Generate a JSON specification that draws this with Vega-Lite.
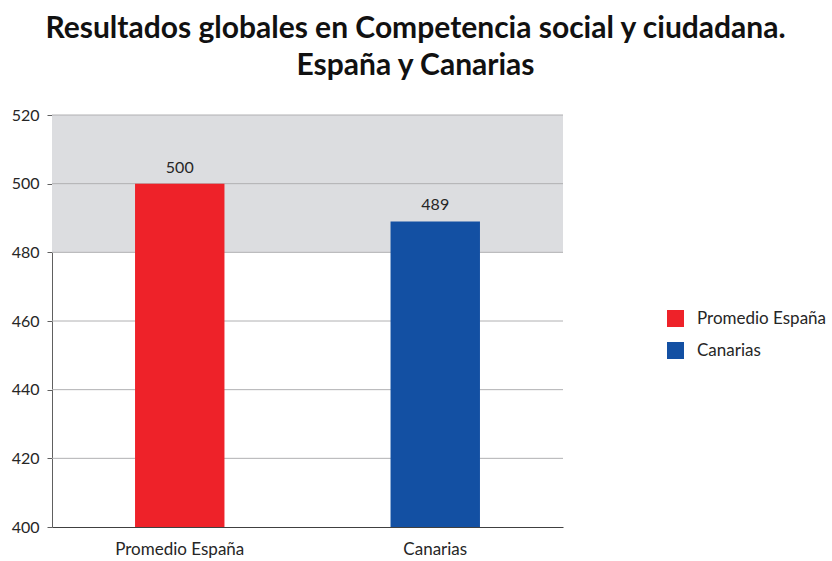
{
  "$schema": "https://vega.github.io/schema/vega-lite/v6.json",
  "autosize": "none",
  "width": 511,
  "height": 412,
  "padding": {"left": 52, "top": 115, "right": 269, "bottom": 34},
  "background": "white",
  "config": {"font": "Lato", "view": {"stroke": null}},
  "title": {
    "text": ["Resultados globales en Competencia social y ciudadana.", "España y Canarias"],
    "fontSize": 30,
    "fontWeight": "bold",
    "font": "Lato",
    "color": "#111111",
    "anchor": "middle",
    "dx": 108,
    "offset": 26,
    "lineHeight": 37
  },
  "datasets": {
    "scores": [
      {"grupo": "Promedio España", "puntuacion": 500},
      {"grupo": "Canarias", "puntuacion": 489}
    ],
    "banda": [{"desde": 480, "hasta": 520}],
    "rejilla": [{"v": 420}, {"v": 440}, {"v": 460}, {"v": 480}, {"v": 500}, {"v": 520}]
  },
  "layer": [
    {
      "data": {"name": "banda"},
      "mark": {"type": "rect", "color": "#dcdde0"},
      "encoding": {
        "y": {
          "field": "desde", "type": "quantitative",
          "scale": {"domain": [400, 520], "nice": false},
          "axis": {"title": null, "values": [400, 420, 440, 460, 480, 500, 520], "grid": false, "labelFontSize": 16, "labelColor": "#262626", "labelFont": "Lato", "domainColor": "#606060", "tickColor": "#606060", "tickSize": 5, "labelPadding": 8}
        },
        "y2": {"field": "hasta"}
      }
    },
    {
      "data": {"name": "rejilla"},
      "mark": {"type": "rule", "color": "#b0b0b2", "strokeWidth": 1},
      "encoding": {
        "y": {"field": "v", "type": "quantitative"}
      }
    },
    {
      "data": {"name": "scores"},
      "mark": {"type": "bar", "clip": true},
      "encoding": {
        "x": {
          "field": "grupo", "type": "nominal", "sort": null,
          "scale": {"paddingInner": 0.65, "paddingOuter": 0.325},
          "axis": {"title": null, "labelAngle": 0, "labelFontSize": 17, "labelColor": "#262626", "labelFont": "Lato", "domainColor": "#404040", "ticks": false, "labelPadding": 14}
        },
        "y": {"field": "puntuacion", "type": "quantitative"},
        "color": {
          "field": "grupo", "type": "nominal", "sort": null,
          "scale": {"domain": ["Promedio España", "Canarias"], "range": ["#ee2229", "#1350a3"]},
          "legend": {
            "title": null, "orient": "none", "legendX": 615, "legendY": 195,
            "symbolType": "square", "symbolSize": 289, "symbolStrokeWidth": 0,
            "labelFontSize": 17, "labelColor": "#262626", "labelFont": "Lato",
            "rowPadding": 14, "labelOffset": 13
          }
        }
      }
    },
    {
      "data": {"name": "scores"},
      "mark": {"type": "text", "dy": -16, "fontSize": 16, "color": "#262626", "font": "Lato"},
      "encoding": {
        "x": {"field": "grupo", "type": "nominal", "sort": null},
        "y": {"field": "puntuacion", "type": "quantitative"},
        "text": {"field": "puntuacion", "type": "quantitative"}
      }
    }
  ]
}
